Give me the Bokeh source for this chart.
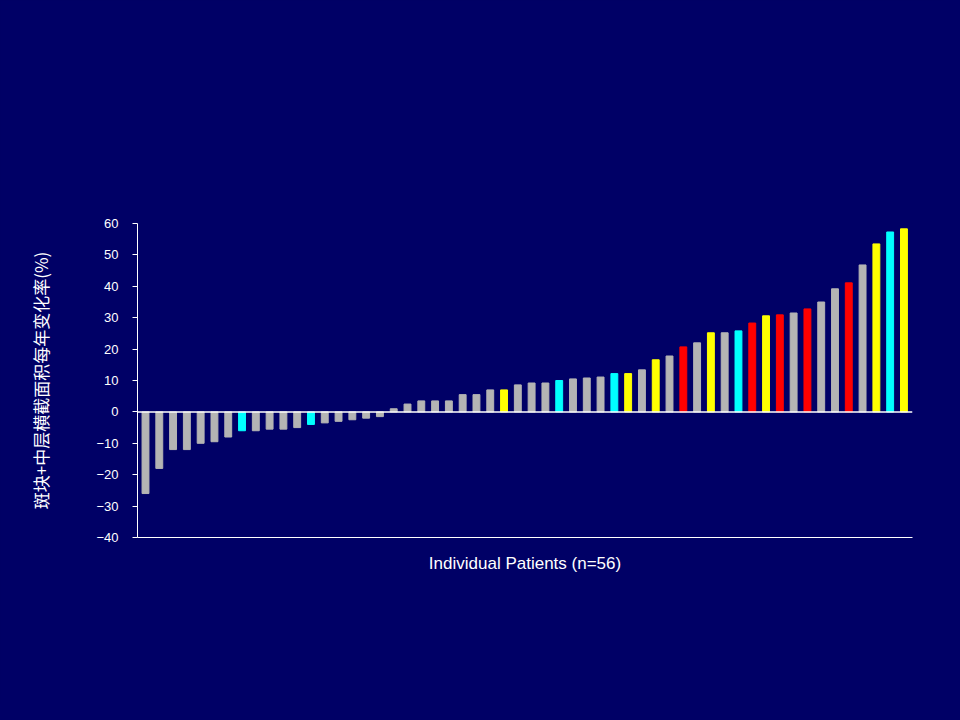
from bokeh.plotting import figure
from bokeh.models import Label, Span, BoxAnnotation, Range1d
from bokeh.embed import file_html
from bokeh.resources import INLINE

values = [-26, -18, -12, -12, -10, -9.5, -8, -6, -6, -5.5, -5.5, -5, -4, -3.5, -3, -2.5, -2, -1.5,
          1, 2.5, 3.5, 3.5, 3.5, 5.5, 5.5, 7, 7, 8.6, 9.2, 9.2, 10, 10.5, 10.8, 11.1, 12.2, 12.2,
          13.4, 16.6, 17.8, 20.7, 22, 25.2, 25.2, 25.8, 28.3, 30.6, 30.9, 31.5, 32.8, 35, 39.2,
          41.1, 46.8, 53.5, 57.3, 58.3]
groups = list("gggggggcggggcgggggggggggggyggg") + list("cgggcygygrgygcryrgrggrgycy")
colors = {"r": "#FF0000", "y": "#FFFF00", "c": "#00FFFF", "g": "#B4B4B4"}
legend_labels = ["心梗(n=5)", "不稳定型心绞痛(n=7)", "新发病变PCI (n=6)", "无事件 (n=36)"]
y_ticks = [-40, -30, -20, -10, 0, 10, 20, 30, 40, 50, 60]

BG = "#000066"
W, H = 944, 704
FL, FB = 137, 537  # frame left / bottom in page pixels
p = figure(width=W, height=H, output_backend="svg", toolbar_location=None,
           x_range=Range1d(0.42, 56.62), y_range=Range1d(-40, 60),
           min_border_left=FL, min_border_right=W - 912, min_border_top=223, min_border_bottom=H - FB)
p.background_fill_color = BG
p.border_fill_color = BG
p.outline_line_color = None
p.grid.visible = False

xs = list(range(1, len(values) + 1))
p.vbar(x=xs, top=values, bottom=0, width=0.5, color=[colors[g] for g in groups])
p.add_layout(Span(location=0, dimension="width", line_color="white", line_width=1.5))

p.yaxis.ticker = y_ticks
p.yaxis.axis_line_color = "white"
p.yaxis.major_tick_line_color = "white"
p.yaxis.minor_tick_line_color = None
p.yaxis.major_tick_in = 0
p.yaxis.major_tick_out = 5
p.yaxis.major_label_standoff = 14
p.yaxis.major_label_text_color = "white"
p.yaxis.major_label_text_font = "Liberation Sans"
p.yaxis.major_label_text_font_size = "13px"
p.yaxis.axis_label = "斑块+中层横截面积每年变化率(%)"
p.yaxis.axis_label_text_color = "white"
p.yaxis.axis_label_text_font = "Noto Sans CJK SC"
p.yaxis.axis_label_text_font_style = "normal"
p.yaxis.axis_label_text_font_size = "17px"
p.yaxis.axis_label_standoff = 40

p.xaxis.axis_line_color = "white"
p.xaxis.major_tick_line_color = None
p.xaxis.minor_tick_line_color = None
p.xaxis.major_label_text_font_size = "0px"
p.xaxis.axis_label = "Individual Patients (n=56)"
p.xaxis.axis_label_text_color = "white"
p.xaxis.axis_label_text_font = "Liberation Sans"
p.xaxis.axis_label_text_font_style = "normal"
p.xaxis.axis_label_text_font_size = "17px"
p.xaxis.axis_label_standoff = 10

def lab(text, px, py, size, color="white", font="Noto Sans CJK SC", style="normal", align="left"):
    p.add_layout(Label(x=px - FL, y=FB - py, x_units="screen", y_units="screen", text=text,
                       text_color=color, text_font=font, text_font_size=size, text_font_style=style,
                       text_align=align, text_baseline="middle"))

lab("随着斑块进展，心血管疾病发生风险增加", 55, 92, "30px", color="#FFFF00", style="bold")
lab("18个月随访期间IVUS斑块进展 vs 心血管事件", 468, 193, "17px", style="bold", align="center")

leg = [("r", 164, 601, 240), ("y", 164, 634, 240), ("c", 568, 601, 643), ("g", 568, 634, 643)]
for (g, bx, by, tx), t in zip(leg, legend_labels):
    p.add_layout(BoxAnnotation(left=bx - FL, right=bx + 64 - FL, top=FB - (by - 7), bottom=FB - (by + 8),
                               left_units="screen", right_units="screen", top_units="screen", bottom_units="screen",
                               fill_color=colors[g], fill_alpha=1, line_color=None))
    lab(t, tx, by, "14px")

lab("von Birgelen C, et al. ", 10, 707, "11px", font="Liberation Sans")
lab("Circulation.", 122, 707, "11px", font="Liberation Sans", style="italic")
lab(" 2004;110:1579-1585.", 182, 707, "11px", font="Liberation Sans")

html = file_html(p, INLINE).replace("<body>", '<body style="background:%s">' % BG)
open("out.html", "w").write(html)
